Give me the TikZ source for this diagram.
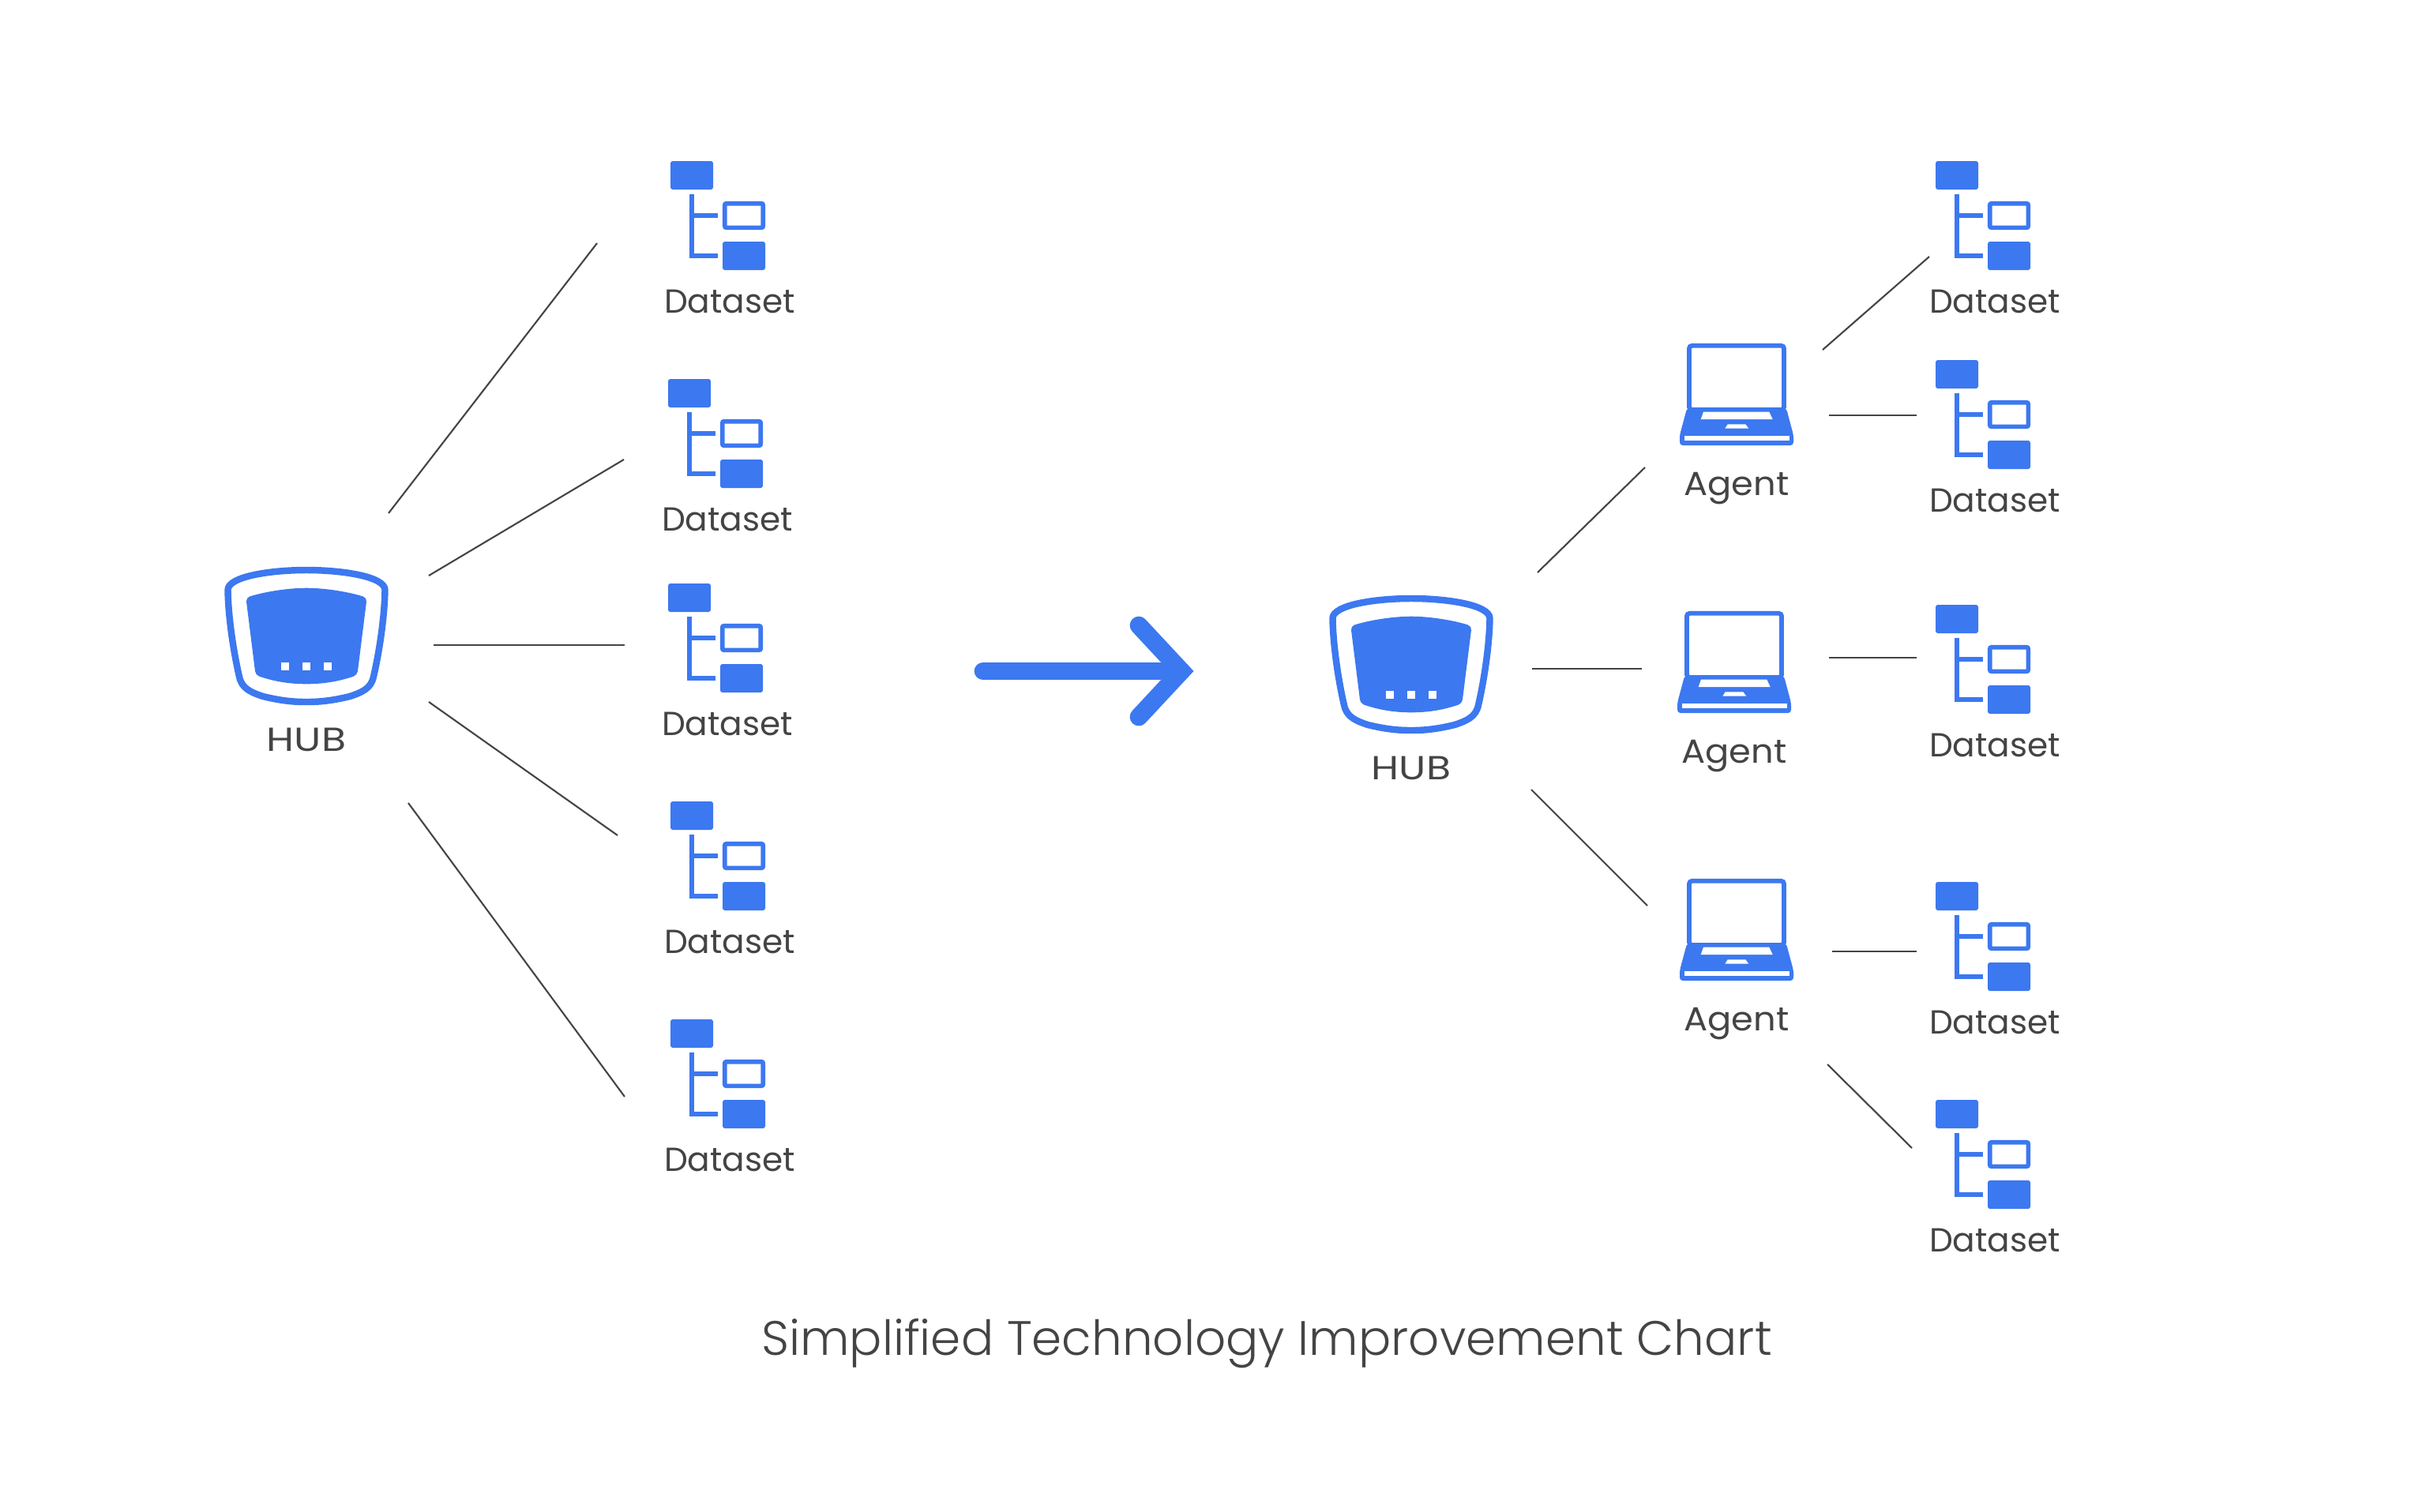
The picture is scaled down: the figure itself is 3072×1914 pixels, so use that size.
\documentclass[tikz,border=0pt]{standalone}
\usepackage{fontspec}
\setmainfont{Poppins}
\newfontfamily\titlefont{Poppins Light}
\definecolor{iconblue}{HTML}{3C78F0}
\definecolor{inkgray}{HTML}{444444}
\tikzset{
  link/.style={draw=inkgray,line width=0.6pt},
  iconlabel/.style={anchor=base,text=inkgray,font=\fontsize{12}{14}\selectfont,inner sep=0pt},
  pics/dataset/.style={code={
    \fill[iconblue,rounded corners=0.8pt] (0,0) rectangle (54,36);
    \draw[iconblue,line width=1.6pt] (27,42) -- (27,120) -- (60,120) (27,69) -- (60,69);
    \draw[iconblue,line width=1.6pt,fill=white,rounded corners=0.6pt] (68.7,53.7) rectangle (117.3,84.3);
    \fill[iconblue,rounded corners=0.8pt] (66,102) rectangle (120,138);
    \node[iconlabel] (-label) at (75,192.5) {Dataset};
  }},
  pics/hub/.style={code={
    \draw[iconblue,line width=2.4pt,fill=white] (0,0) .. controls (45,0) and (99,8) .. (99.5,25)
      .. controls (99,60) and (92,105) .. (85,135) .. controls (82,150) and (70,155) .. (55,160)
      .. controls (30,166) and (15,167) .. (0,167) .. controls (-15,167) and (-30,166) .. (-55,160)
      .. controls (-70,155) and (-82,150) .. (-85,135) .. controls (-92,105) and (-99,60) .. (-99.5,25)
      .. controls (-99,8) and (-45,0) .. (0,0) -- cycle;
    \fill[iconblue] (0,22.7) .. controls (25,22.7) and (55,28) .. (72,33.5) .. controls (75,34.5) and (76,37) .. (76,40)
      -- (65,128) .. controls (64.5,131) and (63,133) .. (60,134.5) .. controls (40,141.5) and (20,144.3) .. (0,144.3)
      .. controls (-20,144.3) and (-40,141.5) .. (-60,134.5) .. controls (-63,133) and (-64.5,131) .. (-65,128)
      -- (-76,40) .. controls (-76,37) and (-75,34.5) .. (-72,33.5) .. controls (-55,28) and (-25,22.7) .. (0,22.7) -- cycle;
    \foreach \dotx in {-27,0,27}
      \fill[white] (\dotx-4.7,117.3) rectangle (\dotx+4.7,126.7);
    \node[iconlabel] (-label) at (0,229.5) {\scalebox{1.2}[1]{HUB}};
  }},
  pics/agent/.style={code={
    \draw[iconblue,line width=1.65pt,fill=white,rounded corners=1pt] (-60,2.8) rectangle (60,84);
    \fill[iconblue,rounded corners=1.1pt] (-62.8,81.7) -- (62.8,81.7) -- (72,116) -- (72,129) -- (-72,129) -- (-72,116) -- cycle;
    \fill[white] (-42,86.7) -- (41.3,86.7) -- (45.7,96) -- (-45.3,96) -- cycle;
    \fill[white] (-11.3,102.3) -- (11.3,102.3) -- (15.3,107.7) -- (-14.7,107.7) -- cycle;
    \fill[white] (-66,117.3) rectangle (67,122.7);
    \node[iconlabel] (-label) at (0,192.5) {\scalebox{1.06}[1]{Agent}};
  }}
}
\begin{document}
\begin{tikzpicture}[x=0.01cm,y=-0.01cm]
\useasboundingbox (0,0) rectangle (3072,1914);
% left side
\pic (hubl) at (388,722) {hub};
\pic (dsa) at (849,204) {dataset};
\pic (dsb) at (846,480) {dataset};
\pic (dsc) at (846,739) {dataset};
\pic (dsd) at (849,1015) {dataset};
\pic (dse) at (849,1291) {dataset};
% right side
\pic (hubr) at (1787,758) {hub};
\pic (aga) at (2199,435) {agent};
\pic (agb) at (2196,774) {agent};
\pic (agc) at (2199,1113) {agent};
\pic (dsf) at (2451,204) {dataset};
\pic (dsg) at (2451,456) {dataset};
\pic (dsh) at (2451,766) {dataset};
\pic (dsi) at (2451,1117) {dataset};
\pic (dsj) at (2451,1393) {dataset};
% big arrow
\coordinate (arrowa) at (1245,850);
\coordinate (arrowb) at (1496,850);
\coordinate (heada) at (1442,792);
\coordinate (headb) at (1442,908);
\draw[iconblue,line width=6.45pt,line cap=round] (arrowa) -- (arrowb);
\draw[iconblue,line width=6.45pt,line cap=round,miter limit=4] (heada) -- (arrowb) -- (headb);
% link ends
\coordinate (la1) at (492,650);  \coordinate (lb1) at (756,308);
\coordinate (la2) at (543,729);  \coordinate (lb2) at (790,582);
\coordinate (la3) at (549,817);  \coordinate (lb3) at (791,817);
\coordinate (la4) at (543,889);  \coordinate (lb4) at (782,1058);
\coordinate (la5) at (517,1017); \coordinate (lb5) at (791,1389);
\coordinate (la6) at (1947,725); \coordinate (lb6) at (2083,592);
\coordinate (la7) at (1940,847); \coordinate (lb7) at (2079,847);
\coordinate (la8) at (1939,1000); \coordinate (lb8) at (2086,1147);
\coordinate (la9) at (2308,443); \coordinate (lb9) at (2443,325);
\coordinate (la10) at (2316,526); \coordinate (lb10) at (2427,526);
\coordinate (la11) at (2316,833); \coordinate (lb11) at (2427,833);
\coordinate (la12) at (2320,1205); \coordinate (lb12) at (2427,1205);
\coordinate (la13) at (2314,1348); \coordinate (lb13) at (2421,1454);
\foreach \i in {1,...,13}
  \draw[link] (la\i) -- (lb\i);
\node[anchor=base,inner sep=0pt,text=inkgray,font=\titlefont\fontsize{17.4}{21}\selectfont] (charttitle) at (1604,1716) {Simplified Technology Improvement Chart};
\end{tikzpicture}
\end{document}
